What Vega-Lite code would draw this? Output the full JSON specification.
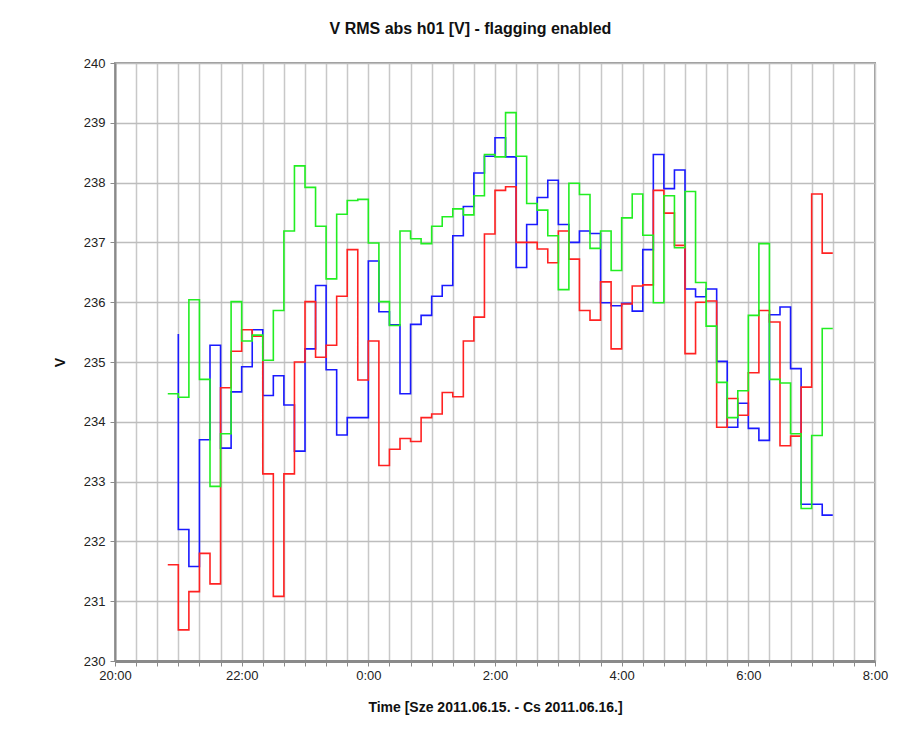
{
  "$schema": "https://vega.github.io/schema/vega-lite/v6.json",
  "width": 760,
  "height": 598,
  "autosize": {"type": "none"},
  "padding": {"left": 115, "top": 63, "right": 42, "bottom": 76},
  "background": "white",
  "title": {
    "text": "V RMS abs h01 [V] - flagging enabled",
    "font": "Liberation Sans",
    "fontSize": 16,
    "fontWeight": "bold",
    "color": "#111",
    "anchor": "middle",
    "frame": "bounds",
    "offset": 20
  },
  "config": {
    "view": {"stroke": "#9a9a9a", "strokeWidth": 2},
    "axis": {
      "labelFont": "Liberation Sans",
      "titleFont": "Liberation Sans",
      "labelFontSize": 13,
      "titleFontSize": 14,
      "titleFontWeight": "bold",
      "labelColor": "#222",
      "titleColor": "#111",
      "domainColor": "#8a8a8a",
      "domainWidth": 2,
      "tickColor": "#8a8a8a",
      "tickSize": 5
    }
  },
  "datasets": {
    "blue": [
      {"i":0,"t":"2011-06-15T21:00","v":235.47},
      {"i":1,"t":"2011-06-15T21:00","v":232.20},
      {"i":2,"t":"2011-06-15T21:10","v":231.58},
      {"i":3,"t":"2011-06-15T21:20","v":233.70},
      {"i":4,"t":"2011-06-15T21:30","v":235.28},
      {"i":5,"t":"2011-06-15T21:40","v":233.56},
      {"i":6,"t":"2011-06-15T21:50","v":234.50},
      {"i":7,"t":"2011-06-15T22:00","v":234.92},
      {"i":8,"t":"2011-06-15T22:10","v":235.54},
      {"i":9,"t":"2011-06-15T22:20","v":234.44},
      {"i":10,"t":"2011-06-15T22:30","v":234.77},
      {"i":11,"t":"2011-06-15T22:40","v":234.28},
      {"i":12,"t":"2011-06-15T22:50","v":233.51},
      {"i":13,"t":"2011-06-15T23:00","v":235.22},
      {"i":14,"t":"2011-06-15T23:10","v":236.28},
      {"i":15,"t":"2011-06-15T23:20","v":234.87},
      {"i":16,"t":"2011-06-15T23:30","v":233.78},
      {"i":17,"t":"2011-06-15T23:40","v":234.07},
      {"i":18,"t":"2011-06-15T23:50","v":234.07},
      {"i":19,"t":"2011-06-16T00:00","v":236.69},
      {"i":20,"t":"2011-06-16T00:10","v":235.84},
      {"i":21,"t":"2011-06-16T00:20","v":235.62},
      {"i":22,"t":"2011-06-16T00:30","v":234.47},
      {"i":23,"t":"2011-06-16T00:40","v":235.63},
      {"i":24,"t":"2011-06-16T00:50","v":235.78},
      {"i":25,"t":"2011-06-16T01:00","v":236.10},
      {"i":26,"t":"2011-06-16T01:10","v":236.28},
      {"i":27,"t":"2011-06-16T01:20","v":237.11},
      {"i":28,"t":"2011-06-16T01:30","v":237.60},
      {"i":29,"t":"2011-06-16T01:40","v":238.16},
      {"i":30,"t":"2011-06-16T01:50","v":238.44},
      {"i":31,"t":"2011-06-16T02:00","v":238.75},
      {"i":32,"t":"2011-06-16T02:10","v":238.43},
      {"i":33,"t":"2011-06-16T02:20","v":236.58},
      {"i":34,"t":"2011-06-16T02:30","v":237.30},
      {"i":35,"t":"2011-06-16T02:40","v":237.75},
      {"i":36,"t":"2011-06-16T02:50","v":238.04},
      {"i":37,"t":"2011-06-16T03:00","v":237.30},
      {"i":38,"t":"2011-06-16T03:10","v":237.00},
      {"i":39,"t":"2011-06-16T03:20","v":237.19},
      {"i":40,"t":"2011-06-16T03:30","v":237.15},
      {"i":41,"t":"2011-06-16T03:40","v":235.99},
      {"i":42,"t":"2011-06-16T03:50","v":235.94},
      {"i":43,"t":"2011-06-16T04:00","v":235.98},
      {"i":44,"t":"2011-06-16T04:10","v":235.85},
      {"i":45,"t":"2011-06-16T04:20","v":236.88},
      {"i":46,"t":"2011-06-16T04:30","v":238.47},
      {"i":47,"t":"2011-06-16T04:40","v":237.90},
      {"i":48,"t":"2011-06-16T04:50","v":238.21},
      {"i":49,"t":"2011-06-16T05:00","v":236.22},
      {"i":50,"t":"2011-06-16T05:10","v":236.09},
      {"i":51,"t":"2011-06-16T05:20","v":236.22},
      {"i":52,"t":"2011-06-16T05:30","v":235.01},
      {"i":53,"t":"2011-06-16T05:40","v":233.91},
      {"i":54,"t":"2011-06-16T05:50","v":234.31},
      {"i":55,"t":"2011-06-16T06:00","v":233.89},
      {"i":56,"t":"2011-06-16T06:10","v":233.69},
      {"i":57,"t":"2011-06-16T06:20","v":235.79},
      {"i":58,"t":"2011-06-16T06:30","v":235.92},
      {"i":59,"t":"2011-06-16T06:40","v":234.89},
      {"i":60,"t":"2011-06-16T06:50","v":232.62},
      {"i":61,"t":"2011-06-16T07:00","v":232.62},
      {"i":62,"t":"2011-06-16T07:10","v":232.44},
      {"i":63,"t":"2011-06-16T07:20","v":232.44}
    ],
    "red": [
      {"i":0,"t":"2011-06-15T20:50","v":231.61},
      {"i":1,"t":"2011-06-15T21:00","v":230.52},
      {"i":2,"t":"2011-06-15T21:10","v":231.16},
      {"i":3,"t":"2011-06-15T21:20","v":231.80},
      {"i":4,"t":"2011-06-15T21:30","v":231.29},
      {"i":5,"t":"2011-06-15T21:40","v":234.57},
      {"i":6,"t":"2011-06-15T21:50","v":235.18},
      {"i":7,"t":"2011-06-15T22:00","v":235.54},
      {"i":8,"t":"2011-06-15T22:10","v":235.43},
      {"i":9,"t":"2011-06-15T22:20","v":233.13},
      {"i":10,"t":"2011-06-15T22:30","v":231.08},
      {"i":11,"t":"2011-06-15T22:40","v":233.13},
      {"i":12,"t":"2011-06-15T22:50","v":235.00},
      {"i":13,"t":"2011-06-15T23:00","v":236.01},
      {"i":14,"t":"2011-06-15T23:10","v":235.08},
      {"i":15,"t":"2011-06-15T23:20","v":235.28},
      {"i":16,"t":"2011-06-15T23:30","v":236.10},
      {"i":17,"t":"2011-06-15T23:40","v":236.88},
      {"i":18,"t":"2011-06-15T23:50","v":234.70},
      {"i":19,"t":"2011-06-16T00:00","v":235.35},
      {"i":20,"t":"2011-06-16T00:10","v":233.27},
      {"i":21,"t":"2011-06-16T00:20","v":233.54},
      {"i":22,"t":"2011-06-16T00:30","v":233.72},
      {"i":23,"t":"2011-06-16T00:40","v":233.67},
      {"i":24,"t":"2011-06-16T00:50","v":234.07},
      {"i":25,"t":"2011-06-16T01:00","v":234.13},
      {"i":26,"t":"2011-06-16T01:10","v":234.49},
      {"i":27,"t":"2011-06-16T01:20","v":234.42},
      {"i":28,"t":"2011-06-16T01:30","v":235.35},
      {"i":29,"t":"2011-06-16T01:40","v":235.75},
      {"i":30,"t":"2011-06-16T01:50","v":237.14},
      {"i":31,"t":"2011-06-16T02:00","v":237.87},
      {"i":32,"t":"2011-06-16T02:10","v":237.93},
      {"i":33,"t":"2011-06-16T02:20","v":237.00},
      {"i":34,"t":"2011-06-16T02:30","v":237.00},
      {"i":35,"t":"2011-06-16T02:40","v":236.89},
      {"i":36,"t":"2011-06-16T02:50","v":236.66},
      {"i":37,"t":"2011-06-16T03:00","v":237.19},
      {"i":38,"t":"2011-06-16T03:10","v":236.72},
      {"i":39,"t":"2011-06-16T03:20","v":235.86},
      {"i":40,"t":"2011-06-16T03:30","v":235.70},
      {"i":41,"t":"2011-06-16T03:40","v":236.34},
      {"i":42,"t":"2011-06-16T03:50","v":235.22},
      {"i":43,"t":"2011-06-16T04:00","v":235.97},
      {"i":44,"t":"2011-06-16T04:10","v":236.27},
      {"i":45,"t":"2011-06-16T04:20","v":236.29},
      {"i":46,"t":"2011-06-16T04:30","v":237.87},
      {"i":47,"t":"2011-06-16T04:40","v":237.49},
      {"i":48,"t":"2011-06-16T04:50","v":236.95},
      {"i":49,"t":"2011-06-16T05:00","v":235.14},
      {"i":50,"t":"2011-06-16T05:10","v":236.00},
      {"i":51,"t":"2011-06-16T05:20","v":236.02},
      {"i":52,"t":"2011-06-16T05:30","v":233.91},
      {"i":53,"t":"2011-06-16T05:40","v":234.39},
      {"i":54,"t":"2011-06-16T05:50","v":234.11},
      {"i":55,"t":"2011-06-16T06:00","v":234.82},
      {"i":56,"t":"2011-06-16T06:10","v":235.86},
      {"i":57,"t":"2011-06-16T06:20","v":235.67},
      {"i":58,"t":"2011-06-16T06:30","v":233.60},
      {"i":59,"t":"2011-06-16T06:40","v":233.76},
      {"i":60,"t":"2011-06-16T06:50","v":234.58},
      {"i":61,"t":"2011-06-16T07:00","v":237.81},
      {"i":62,"t":"2011-06-16T07:10","v":236.82},
      {"i":63,"t":"2011-06-16T07:20","v":236.82}
    ],
    "green": [
      {"i":0,"t":"2011-06-15T20:50","v":234.47},
      {"i":1,"t":"2011-06-15T21:00","v":234.41},
      {"i":2,"t":"2011-06-15T21:10","v":236.04},
      {"i":3,"t":"2011-06-15T21:20","v":234.71},
      {"i":4,"t":"2011-06-15T21:30","v":232.92},
      {"i":5,"t":"2011-06-15T21:40","v":233.80},
      {"i":6,"t":"2011-06-15T21:50","v":236.01},
      {"i":7,"t":"2011-06-15T22:00","v":235.35},
      {"i":8,"t":"2011-06-15T22:10","v":235.45},
      {"i":9,"t":"2011-06-15T22:20","v":235.03},
      {"i":10,"t":"2011-06-15T22:30","v":235.86},
      {"i":11,"t":"2011-06-15T22:40","v":237.19},
      {"i":12,"t":"2011-06-15T22:50","v":238.28},
      {"i":13,"t":"2011-06-15T23:00","v":237.92},
      {"i":14,"t":"2011-06-15T23:10","v":237.27},
      {"i":15,"t":"2011-06-15T23:20","v":236.39},
      {"i":16,"t":"2011-06-15T23:30","v":237.47},
      {"i":17,"t":"2011-06-15T23:40","v":237.70},
      {"i":18,"t":"2011-06-15T23:50","v":237.72},
      {"i":19,"t":"2011-06-16T00:00","v":236.99},
      {"i":20,"t":"2011-06-16T00:10","v":236.01},
      {"i":21,"t":"2011-06-16T00:20","v":235.61},
      {"i":22,"t":"2011-06-16T00:30","v":237.19},
      {"i":23,"t":"2011-06-16T00:40","v":237.06},
      {"i":24,"t":"2011-06-16T00:50","v":236.98},
      {"i":25,"t":"2011-06-16T01:00","v":237.27},
      {"i":26,"t":"2011-06-16T01:10","v":237.43},
      {"i":27,"t":"2011-06-16T01:20","v":237.56},
      {"i":28,"t":"2011-06-16T01:30","v":237.46},
      {"i":29,"t":"2011-06-16T01:40","v":237.78},
      {"i":30,"t":"2011-06-16T01:50","v":238.47},
      {"i":31,"t":"2011-06-16T02:00","v":238.43},
      {"i":32,"t":"2011-06-16T02:10","v":239.17},
      {"i":33,"t":"2011-06-16T02:20","v":238.44},
      {"i":34,"t":"2011-06-16T02:30","v":237.65},
      {"i":35,"t":"2011-06-16T02:40","v":237.54},
      {"i":36,"t":"2011-06-16T02:50","v":237.11},
      {"i":37,"t":"2011-06-16T03:00","v":236.21},
      {"i":38,"t":"2011-06-16T03:10","v":237.99},
      {"i":39,"t":"2011-06-16T03:20","v":237.80},
      {"i":40,"t":"2011-06-16T03:30","v":236.90},
      {"i":41,"t":"2011-06-16T03:40","v":237.19},
      {"i":42,"t":"2011-06-16T03:50","v":236.53},
      {"i":43,"t":"2011-06-16T04:00","v":237.41},
      {"i":44,"t":"2011-06-16T04:10","v":237.81},
      {"i":45,"t":"2011-06-16T04:20","v":237.12},
      {"i":46,"t":"2011-06-16T04:30","v":235.99},
      {"i":47,"t":"2011-06-16T04:40","v":237.78},
      {"i":48,"t":"2011-06-16T04:50","v":236.91},
      {"i":49,"t":"2011-06-16T05:00","v":237.85},
      {"i":50,"t":"2011-06-16T05:10","v":236.33},
      {"i":51,"t":"2011-06-16T05:20","v":235.60},
      {"i":52,"t":"2011-06-16T05:30","v":234.66},
      {"i":53,"t":"2011-06-16T05:40","v":234.07},
      {"i":54,"t":"2011-06-16T05:50","v":234.52},
      {"i":55,"t":"2011-06-16T06:00","v":235.78},
      {"i":56,"t":"2011-06-16T06:10","v":236.98},
      {"i":57,"t":"2011-06-16T06:20","v":234.71},
      {"i":58,"t":"2011-06-16T06:30","v":234.65},
      {"i":59,"t":"2011-06-16T06:40","v":233.80},
      {"i":60,"t":"2011-06-16T06:50","v":232.55},
      {"i":61,"t":"2011-06-16T07:00","v":233.77},
      {"i":62,"t":"2011-06-16T07:10","v":235.56},
      {"i":63,"t":"2011-06-16T07:20","v":235.56}
    ]
  },
  "encoding": {
    "x": {
      "field": "t",
      "type": "temporal",
      "title": "Time [Sze 2011.06.15. - Cs 2011.06.16.]",
      "scale": {
        "domain": [
          {"year": 2011, "month": 6, "date": 15, "hours": 20, "minutes": 0},
          {"year": 2011, "month": 6, "date": 16, "hours": 8, "minutes": 0}
        ],
        "nice": false
      },
      "axis": {
        "values": [
          {"year": 2011, "month": 6, "date": 15, "hours": 20, "minutes": 0},
          {"year": 2011, "month": 6, "date": 15, "hours": 20, "minutes": 20},
          {"year": 2011, "month": 6, "date": 15, "hours": 20, "minutes": 40},
          {"year": 2011, "month": 6, "date": 15, "hours": 21, "minutes": 0},
          {"year": 2011, "month": 6, "date": 15, "hours": 21, "minutes": 20},
          {"year": 2011, "month": 6, "date": 15, "hours": 21, "minutes": 40},
          {"year": 2011, "month": 6, "date": 15, "hours": 22, "minutes": 0},
          {"year": 2011, "month": 6, "date": 15, "hours": 22, "minutes": 20},
          {"year": 2011, "month": 6, "date": 15, "hours": 22, "minutes": 40},
          {"year": 2011, "month": 6, "date": 15, "hours": 23, "minutes": 0},
          {"year": 2011, "month": 6, "date": 15, "hours": 23, "minutes": 20},
          {"year": 2011, "month": 6, "date": 15, "hours": 23, "minutes": 40},
          {"year": 2011, "month": 6, "date": 16, "hours": 0, "minutes": 0},
          {"year": 2011, "month": 6, "date": 16, "hours": 0, "minutes": 20},
          {"year": 2011, "month": 6, "date": 16, "hours": 0, "minutes": 40},
          {"year": 2011, "month": 6, "date": 16, "hours": 1, "minutes": 0},
          {"year": 2011, "month": 6, "date": 16, "hours": 1, "minutes": 20},
          {"year": 2011, "month": 6, "date": 16, "hours": 1, "minutes": 40},
          {"year": 2011, "month": 6, "date": 16, "hours": 2, "minutes": 0},
          {"year": 2011, "month": 6, "date": 16, "hours": 2, "minutes": 20},
          {"year": 2011, "month": 6, "date": 16, "hours": 2, "minutes": 40},
          {"year": 2011, "month": 6, "date": 16, "hours": 3, "minutes": 0},
          {"year": 2011, "month": 6, "date": 16, "hours": 3, "minutes": 20},
          {"year": 2011, "month": 6, "date": 16, "hours": 3, "minutes": 40},
          {"year": 2011, "month": 6, "date": 16, "hours": 4, "minutes": 0},
          {"year": 2011, "month": 6, "date": 16, "hours": 4, "minutes": 20},
          {"year": 2011, "month": 6, "date": 16, "hours": 4, "minutes": 40},
          {"year": 2011, "month": 6, "date": 16, "hours": 5, "minutes": 0},
          {"year": 2011, "month": 6, "date": 16, "hours": 5, "minutes": 20},
          {"year": 2011, "month": 6, "date": 16, "hours": 5, "minutes": 40},
          {"year": 2011, "month": 6, "date": 16, "hours": 6, "minutes": 0},
          {"year": 2011, "month": 6, "date": 16, "hours": 6, "minutes": 20},
          {"year": 2011, "month": 6, "date": 16, "hours": 6, "minutes": 40},
          {"year": 2011, "month": 6, "date": 16, "hours": 7, "minutes": 0},
          {"year": 2011, "month": 6, "date": 16, "hours": 7, "minutes": 20},
          {"year": 2011, "month": 6, "date": 16, "hours": 7, "minutes": 40},
          {"year": 2011, "month": 6, "date": 16, "hours": 8, "minutes": 0}
        ],
        "labelExpr": "minutes(datum.value) == 0 && hours(datum.value) % 2 == 0 ? timeFormat(datum.value, '%-H:%M') : ''",
        "labelFlush": false,
        "labelOverlap": false,
        "labelPadding": 3,
        "titlePadding": 18,
        "domainWidth": 3,
        "grid": true,
        "gridColor": "#c8c8c8",
        "gridWidth": 1.5
      }
    },
    "y": {
      "field": "v",
      "type": "quantitative",
      "title": "V",
      "scale": {"domain": [230, 240], "nice": false, "zero": false},
      "axis": {
        "values": [230, 231, 232, 233, 234, 235, 236, 237, 238, 239, 240],
        "format": "d",
        "grid": true,
        "gridColor": "#bdbdbd",
        "gridWidth": 1.5,
        "labelPadding": 5,
        "titlePadding": 16
      }
    },
    "order": {"field": "i", "type": "quantitative"}
  },
  "layer": [
    {
      "data": {"name": "blue"},
      "mark": {"type": "line", "interpolate": "step-after", "color": "#1a1aff", "strokeWidth": 1.6}
    },
    {
      "data": {"name": "red"},
      "mark": {"type": "line", "interpolate": "step-after", "color": "#ff2222", "strokeWidth": 1.6}
    },
    {
      "data": {"name": "green"},
      "mark": {"type": "line", "interpolate": "step-after", "color": "#22ee22", "strokeWidth": 1.6}
    }
  ]
}
